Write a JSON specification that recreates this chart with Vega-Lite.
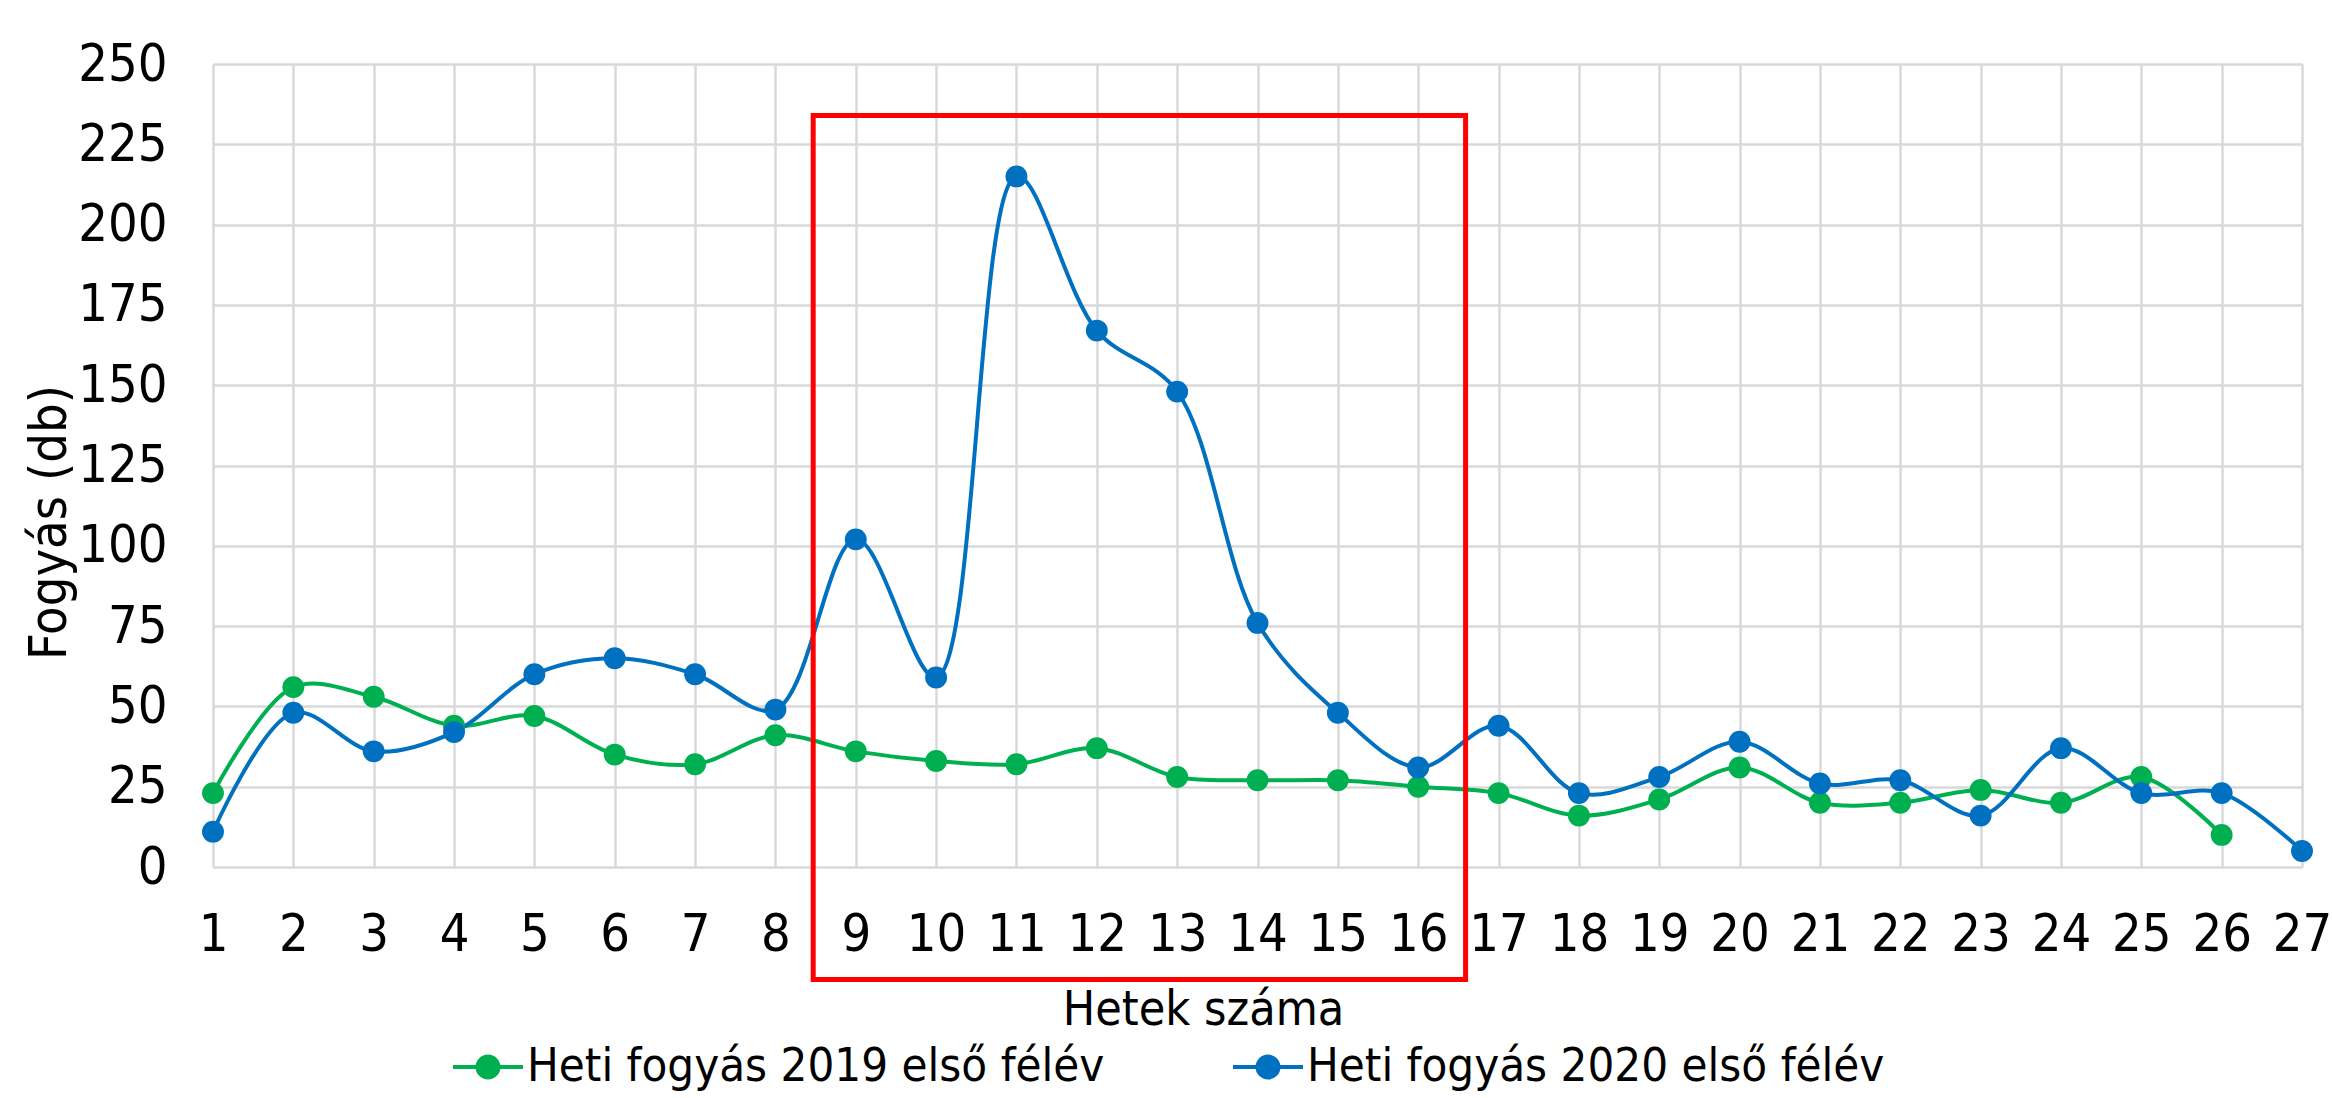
{
  "$schema": "https://vega.github.io/schema/vega-lite/v6.json",
  "width": 2089,
  "height": 803,
  "autosize": "none",
  "padding": {"left": 213, "top": 64, "right": 30, "bottom": 231},
  "background": "white",
  "config": {
    "view": {"stroke": null},
    "font": "Liberation Sans Narrow, DejaVu Sans Condensed, sans-serif",
    "axis": {"labelFont": "Liberation Sans Narrow, DejaVu Sans Condensed, sans-serif", "titleFont": "Liberation Sans Narrow, DejaVu Sans Condensed, sans-serif"},
    "legend": {"labelFont": "Liberation Sans Narrow, DejaVu Sans Condensed, sans-serif"}
  },
  "datasets": {
    "sales": [
      {"week": 1, "series": "Heti fogyás 2019 első félév", "value": 23},
      {"week": 2, "series": "Heti fogyás 2019 első félév", "value": 56},
      {"week": 3, "series": "Heti fogyás 2019 első félév", "value": 53},
      {"week": 4, "series": "Heti fogyás 2019 első félév", "value": 44},
      {"week": 5, "series": "Heti fogyás 2019 első félév", "value": 47},
      {"week": 6, "series": "Heti fogyás 2019 első félév", "value": 35},
      {"week": 7, "series": "Heti fogyás 2019 első félév", "value": 32},
      {"week": 8, "series": "Heti fogyás 2019 első félév", "value": 41},
      {"week": 9, "series": "Heti fogyás 2019 első félév", "value": 36},
      {"week": 10, "series": "Heti fogyás 2019 első félév", "value": 33},
      {"week": 11, "series": "Heti fogyás 2019 első félév", "value": 32},
      {"week": 12, "series": "Heti fogyás 2019 első félév", "value": 37},
      {"week": 13, "series": "Heti fogyás 2019 első félév", "value": 28},
      {"week": 14, "series": "Heti fogyás 2019 első félév", "value": 27},
      {"week": 15, "series": "Heti fogyás 2019 első félév", "value": 27},
      {"week": 16, "series": "Heti fogyás 2019 első félév", "value": 25},
      {"week": 17, "series": "Heti fogyás 2019 első félév", "value": 23},
      {"week": 18, "series": "Heti fogyás 2019 első félév", "value": 16},
      {"week": 19, "series": "Heti fogyás 2019 első félév", "value": 21},
      {"week": 20, "series": "Heti fogyás 2019 első félév", "value": 31},
      {"week": 21, "series": "Heti fogyás 2019 első félév", "value": 20},
      {"week": 22, "series": "Heti fogyás 2019 első félév", "value": 20},
      {"week": 23, "series": "Heti fogyás 2019 első félév", "value": 24},
      {"week": 24, "series": "Heti fogyás 2019 első félév", "value": 20},
      {"week": 25, "series": "Heti fogyás 2019 első félév", "value": 28},
      {"week": 26, "series": "Heti fogyás 2019 első félév", "value": 10},
      {"week": 1, "series": "Heti fogyás 2020 első félév", "value": 11},
      {"week": 2, "series": "Heti fogyás 2020 első félév", "value": 48},
      {"week": 3, "series": "Heti fogyás 2020 első félév", "value": 36},
      {"week": 4, "series": "Heti fogyás 2020 első félév", "value": 42},
      {"week": 5, "series": "Heti fogyás 2020 első félév", "value": 60},
      {"week": 6, "series": "Heti fogyás 2020 első félév", "value": 65},
      {"week": 7, "series": "Heti fogyás 2020 első félév", "value": 60},
      {"week": 8, "series": "Heti fogyás 2020 első félév", "value": 49},
      {"week": 9, "series": "Heti fogyás 2020 első félév", "value": 102},
      {"week": 10, "series": "Heti fogyás 2020 első félév", "value": 59},
      {"week": 11, "series": "Heti fogyás 2020 első félév", "value": 215},
      {"week": 12, "series": "Heti fogyás 2020 első félév", "value": 167},
      {"week": 13, "series": "Heti fogyás 2020 első félév", "value": 148},
      {"week": 14, "series": "Heti fogyás 2020 első félév", "value": 76},
      {"week": 15, "series": "Heti fogyás 2020 első félév", "value": 48},
      {"week": 16, "series": "Heti fogyás 2020 első félév", "value": 31},
      {"week": 17, "series": "Heti fogyás 2020 első félév", "value": 44},
      {"week": 18, "series": "Heti fogyás 2020 első félév", "value": 23},
      {"week": 19, "series": "Heti fogyás 2020 első félév", "value": 28},
      {"week": 20, "series": "Heti fogyás 2020 első félév", "value": 39},
      {"week": 21, "series": "Heti fogyás 2020 első félév", "value": 26},
      {"week": 22, "series": "Heti fogyás 2020 első félév", "value": 27},
      {"week": 23, "series": "Heti fogyás 2020 első félév", "value": 16},
      {"week": 24, "series": "Heti fogyás 2020 első félév", "value": 37},
      {"week": 25, "series": "Heti fogyás 2020 első félév", "value": 23},
      {"week": 26, "series": "Heti fogyás 2020 első félév", "value": 23},
      {"week": 27, "series": "Heti fogyás 2020 első félév", "value": 5}
    ],
    "highlight": [
      {"from_week": 8.47, "to_week": 16.59, "low": -35, "high": 234}
    ]
  },
  "layer": [
    {
      "data": {"name": "sales"},
      "mark": {"type": "line", "interpolate": "catmull-rom", "strokeWidth": 4},
      "encoding": {
        "x": {
          "field": "week", "type": "quantitative",
          "scale": {"domain": [1, 27], "nice": false, "zero": false},
          "axis": {
            "title": "Hetek száma",
            "values": [1,2,3,4,5,6,7,8,9,10,11,12,13,14,15,16,17,18,19,20,21,22,23,24,25,26,27],
            "format": "d", "labelOverlap": false, "labelFlush": false,
            "grid": true, "gridColor": "#D9D9D9", "gridWidth": 2.5,
            "domain": false, "ticks": false,
            "labelFontSize": 52, "labelColor": "#000000", "labelPadding": 42,
            "titleFontSize": 48, "titleFontWeight": "normal", "titleColor": "#000000", "titlePadding": 26,
            "titleX": 990
          }
        },
        "y": {
          "field": "value", "type": "quantitative",
          "scale": {"domain": [0, 250], "nice": false},
          "axis": {
            "title": "Fogyás (db)",
            "values": [0,25,50,75,100,125,150,175,200,225,250],
            "grid": true, "gridColor": "#D9D9D9", "gridWidth": 2.5,
            "domain": false, "ticks": false,
            "labelFontSize": 52, "labelColor": "#000000", "labelPadding": 46,
            "titleFontSize": 52, "titleFontWeight": "normal", "titleColor": "#000000", "titlePadding": 1,
            "titleY": 458
          }
        },
        "color": {
          "field": "series", "type": "nominal",
          "scale": {"domain": ["Heti fogyás 2019 első félév", "Heti fogyás 2020 első félév"], "range": ["#00B050", "#0070C0"]},
          "legend": {
            "title": null, "orient": "none", "legendX": 238, "legendY": 966,
            "direction": "horizontal",
            "labelFontSize": 47, "labelColor": "#000000", "labelOffset": 2, "labelLimit": 0,
            "columnPadding": 120,
            "symbolType": "M-1,0H1M-0.3,0A0.3,0.3,0,1,1,0.3,0A0.3,0.3,0,1,1,-0.3,0Z",
            "symbolSize": 4900, "symbolStrokeWidth": 4,
            "encode": {"symbols": {"update": {
              "stroke": {"scale": "color", "field": "value"},
              "fill": {"scale": "color", "field": "value"},
              "fillOpacity": {"value": 1},
              "strokeWidth": {"value": 4}
            }}}
          }
        }
      }
    },
    {
      "data": {"name": "sales"},
      "mark": {"type": "point", "filled": true, "shape": "circle", "size": 480, "opacity": 1},
      "encoding": {
        "x": {"field": "week", "type": "quantitative"},
        "y": {"field": "value", "type": "quantitative"},
        "color": {"field": "series", "type": "nominal"}
      }
    },
    {
      "data": {"name": "highlight"},
      "mark": {"type": "rect", "fill": null, "filled": false, "stroke": "#FF0000", "strokeWidth": 5, "clip": false},
      "encoding": {
        "x": {"field": "from_week", "type": "quantitative"},
        "x2": {"field": "to_week"},
        "y": {"field": "low", "type": "quantitative"},
        "y2": {"field": "high"}
      }
    }
  ]
}
